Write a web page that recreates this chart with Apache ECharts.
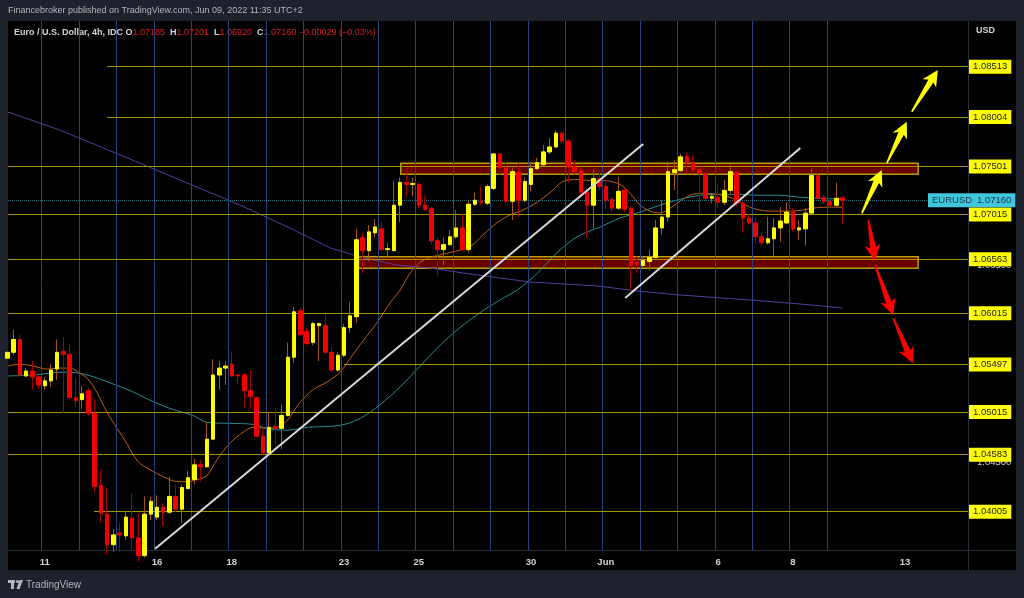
<!DOCTYPE html>
<html><head><meta charset="utf-8">
<script src="https://cdn.jsdelivr.net/npm/echarts@6/dist/echarts.min.js"></script>
<style>html,body{margin:0;padding:0;background:#1e222d;}#c{width:1024px;height:598px;}</style>
</head><body><div id="c"></div>
<script>
// ---- 4h EURUSD candles (index 0 = May 10, 04:00 bar) ----
const opens  = [1.0556,1.0562,1.0575,1.0538,1.0543,1.0537,1.0528,1.0533,1.0545,1.0563,1.0560,1.0516,1.0514,1.0523,1.0500,1.0427,1.0398,1.0367,1.0379,1.0376,1.0394,1.0374,1.0356,1.0398,1.0395,1.0405,1.0400,1.0416,1.0403,1.0424,1.0433,1.0448,1.0446,1.0474,1.0539,1.0546,1.0550,1.0539,1.0539,1.0523,1.0516,1.0477,1.0460,1.0487,1.0485,1.0498,1.0557,1.0604,1.0583,1.0572,1.0589,1.0589,1.0562,1.0544,1.0559,1.0587,1.0598,1.0678,1.0665,1.0683,1.0687,1.0666,1.0665,1.0711,1.0734,1.0732,1.0732,1.0711,1.0708,1.0675,1.0666,1.0671,1.0679,1.0688,1.0666,1.0712,1.0715,1.0713,1.0728,1.0763,1.0749,1.0715,1.0744,1.0716,1.0732,1.0748,1.0752,1.0765,1.0770,1.0784,1.0776,1.0750,1.0746,1.0724,1.0711,1.0738,1.0730,1.0717,1.0708,1.0726,1.0708,1.0653,1.0650,1.0654,1.0658,1.0688,1.0699,1.0744,1.0746,1.0760,1.0754,1.0747,1.0743,1.0718,1.0719,1.0714,1.0726,1.0744,1.0713,1.0698,1.0693,1.0679,1.0673,1.0677,1.0688,1.0693,1.0704,1.0686,1.0687,1.0703,1.0741,1.0719,1.0715,1.0711,1.07185];
const highs  = [1.0566,1.0585,1.0580,1.0546,1.0553,1.0539,1.0537,1.0550,1.0575,1.0577,1.0570,1.0535,1.0528,1.0526,1.0515,1.0443,1.0424,1.0383,1.0389,1.0401,1.0419,1.0399,1.0416,1.0416,1.0417,1.0409,1.0436,1.0428,1.0428,1.0442,1.0454,1.0453,1.0491,1.0555,1.0553,1.0553,1.0563,1.0541,1.0541,1.0543,1.0517,1.0485,1.0501,1.0506,1.0509,1.0572,1.0608,1.0607,1.0587,1.0593,1.0592,1.0600,1.0567,1.0562,1.0591,1.0613,1.0687,1.0683,1.0691,1.0697,1.0694,1.0673,1.0736,1.0739,1.0749,1.0739,1.0734,1.0720,1.0709,1.0678,1.0678,1.0686,1.0706,1.0702,1.0716,1.0724,1.0730,1.0732,1.0764,1.0764,1.0754,1.0749,1.0754,1.0739,1.0754,1.0759,1.0772,1.0779,1.0787,1.0786,1.0778,1.0757,1.0749,1.0728,1.0747,1.0747,1.0734,1.0720,1.0740,1.0728,1.0710,1.0659,1.0660,1.0666,1.0696,1.0716,1.0755,1.0757,1.0763,1.0764,1.0762,1.0750,1.0749,1.0723,1.0732,1.0737,1.0752,1.0747,1.0715,1.0702,1.0699,1.0683,1.0699,1.0698,1.0709,1.0714,1.0708,1.0696,1.0708,1.0748,1.0743,1.0721,1.0718,1.0734,1.07201];
const lows   = [1.0552,1.0559,1.0537,1.0537,1.0524,1.0525,1.0524,1.0527,1.0534,1.0500,1.0514,1.0507,1.0505,1.0498,1.0420,1.0389,1.0357,1.0360,1.0360,1.0372,1.0362,1.0350,1.0354,1.0392,1.0392,1.0386,1.0398,1.0400,1.0389,1.0423,1.0428,1.0431,1.0445,1.0473,1.0524,1.0529,1.0537,1.0529,1.0506,1.0504,1.0476,1.0458,1.0459,1.0466,1.0464,1.0497,1.0551,1.0578,1.0569,1.0569,1.0553,1.0560,1.0542,1.0542,1.0557,1.0582,1.0592,1.0642,1.0654,1.0678,1.0664,1.0659,1.0664,1.0694,1.0720,1.0720,1.0708,1.0705,1.0671,1.0640,1.0650,1.0670,1.0677,1.0664,1.0663,1.0710,1.0711,1.0711,1.0726,1.0742,1.0713,1.0696,1.0699,1.0714,1.0725,1.0747,1.0751,1.0763,1.0769,1.0774,1.0734,1.0742,1.0721,1.0678,1.0688,1.0726,1.0707,1.0704,1.0706,1.0704,1.0625,1.0642,1.0648,1.0645,1.0657,1.0681,1.0694,1.0726,1.0745,1.0744,1.0742,1.0703,1.0715,1.0713,1.0708,1.0711,1.0723,1.0710,1.0683,1.0691,1.0672,1.0669,1.0671,1.0659,1.0674,1.0692,1.0684,1.0676,1.0670,1.0702,1.0716,1.0712,1.0709,1.0709,1.06920];
const closes = [1.0562,1.0575,1.0539,1.0543,1.0537,1.0529,1.0533,1.0544,1.0562,1.0560,1.0516,1.0513,1.0520,1.0500,1.0426,1.0399,1.0367,1.0377,1.0377,1.0395,1.0374,1.0356,1.0398,1.0411,1.0405,1.0400,1.0416,1.0403,1.0425,1.0435,1.0448,1.0446,1.0474,1.0539,1.0546,1.0548,1.0538,1.0538,1.0523,1.0517,1.0477,1.0460,1.0486,1.0485,1.0498,1.0557,1.0603,1.0580,1.0571,1.0591,1.0591,1.0562,1.0544,1.0559,1.0587,1.0599,1.0676,1.0665,1.0684,1.0689,1.0666,1.0667,1.0711,1.0734,1.0732,1.0733,1.0711,1.0707,1.0675,1.0666,1.0671,1.0679,1.0688,1.0666,1.0712,1.0716,1.0714,1.0730,1.0763,1.0749,1.0715,1.0745,1.0716,1.0735,1.0748,1.0754,1.0765,1.0770,1.0784,1.0776,1.0750,1.0745,1.0724,1.0711,1.0738,1.0730,1.0716,1.0708,1.0725,1.0707,1.0650,1.0651,1.0655,1.0658,1.0688,1.0699,1.0745,1.0747,1.0760,1.0754,1.0747,1.0743,1.0718,1.0720,1.0714,1.0726,1.0745,1.0713,1.0698,1.0693,1.0679,1.0673,1.0677,1.0688,1.0695,1.0704,1.0687,1.0688,1.0703,1.0741,1.0718,1.0715,1.0711,1.0718,1.07160];

// ---- moving averages [bar index, price] ----
const maFast = [[0.1,1.0548],[2,1.0550],[4.1,1.0548],[6.4,1.0545],[8.4,1.0546],[10,1.0546],[11.6,1.0541],[12.9,1.0535],[14.4,1.0521],[16,1.0501],[17.6,1.0485],[19.2,1.0469],[21,1.0451],[22.9,1.0443],[25,1.0436],[27.2,1.0431],[28.8,1.0431],[30.4,1.0433],[32,1.0437],[33.6,1.0453],[35.7,1.0470],[37.8,1.0481],[39.4,1.0486],[41.6,1.0485],[43.3,1.0486],[44.9,1.0493],[46.9,1.0511],[49,1.0524],[51.3,1.0532],[53.4,1.0542],[55,1.0556],[57.1,1.0574],[59.3,1.0592],[61.4,1.0612],[63,1.0625],[64.6,1.0642],[66.2,1.0653],[67.8,1.0658],[71,1.0663],[74.2,1.0669],[76.3,1.0681],[78.5,1.0693],[80.6,1.0701],[82.7,1.0706],[85,1.0714],[87.1,1.0724],[89.1,1.0735],[91.4,1.0737],[93.5,1.0736],[95.6,1.0736],[98.3,1.0732],[99.9,1.0723],[101.5,1.0711],[103.1,1.0705],[104.7,1.0703],[106.3,1.0708],[107.9,1.0715],[109.5,1.0721],[111.1,1.0723],[113.8,1.0722],[115.9,1.0719],[117.5,1.0714],[119.1,1.0709],[120.7,1.0706],[122.8,1.0705],[125.6,1.0705],[127.6,1.0706],[129.2,1.0708],[131.5,1.0709],[134,1.0709]];
const maMid = [[0.1,1.0538],[4.1,1.0539],[9.6,1.0542],[12.8,1.0539],[16.5,1.0531],[20.1,1.0522],[23.4,1.0512],[26.6,1.0504],[29.8,1.0498],[32,1.0491],[35.7,1.0490],[39.4,1.0489],[41.6,1.0485],[44.9,1.0483],[48.1,1.0486],[53.4,1.0488],[56.6,1.0495],[59.8,1.0509],[63,1.0527],[66.2,1.0548],[69.4,1.0569],[72.6,1.0587],[75.8,1.0602],[79,1.0615],[81.8,1.0625],[85,1.0642],[88.2,1.0663],[91.4,1.0679],[95.1,1.0689],[98.3,1.0698],[101.5,1.0704],[104.7,1.0711],[107.9,1.0717],[111.1,1.0721],[114.3,1.0722],[117.5,1.0722],[120.7,1.0721],[123.9,1.0721],[127.2,1.0719],[130.4,1.0718],[134,1.0717]];
const maSlow = [[0.1,1.08054],[8.4,1.07872],[18.1,1.07619],[27.7,1.07365],[37.3,1.07112],[45.3,1.06879],[51.8,1.06677],[56.6,1.06585],[62.5,1.06504],[67.8,1.06474],[73.1,1.06423],[83.8,1.06332],[94.6,1.06292],[101,1.06241],[107.9,1.06200],[119.1,1.06150],[127.2,1.06109],[134,1.06069]];

// ---- drawings ----
const levels      = [1.08513,1.08004,1.07501,1.07015,1.06563,1.06015,1.05497,1.05015,1.04583,1.04005];
const levelStarts = [16,16,0.1,0.1,0.1,0.1,54,0.1,0.1,13.9];
const zones = [[63.1,146.1,1.07535,1.07424],[56.3,146.1,1.06589,1.06471]];
const trendLines = [[[23.7,1.0363],[102.0,1.0773]],[[99.1,1.0617],[127.2,1.0769]]];
const upArrows = [[[137.06,1.07028],[140.27,1.07467]],[[141.07,1.07535],[144.28,1.07956]],[[145.08,1.08057],[149.25,1.08480]]];
const downArrows = [[[138.12,1.06960],[139.19,1.06548]],[[139.19,1.06504],[142.13,1.05998]],[[142.13,1.05964],[145.24,1.05509]]];
const lastPrice = 1.07160;

// ---- axes ----
const dayStarts = [6,12,18,24,30,36,42,48,54,60,66,72,78,84,90,96,102,108,114,120,126,132];
const dayLabels = ['11','16','18','23','25','30','Jun','6','8','13'];
const dayLabelBars = [6,24,36,54,66,84,96,114,126,144];
const priceTicks = [1.040,1.045,1.050,1.055,1.060,1.065,1.070,1.075,1.080,1.085];
const X_MIN = 0.1, X_MAX = 154.1, Y_MIN = 1.03617, Y_MAX = 1.08976;

const candleFull = opens.map((o,i)=>[i,o,closes[i],lows[i],highs[i]]);
const candleBody = opens.map((o,i)=>[i,o,closes[i],Math.min(o,closes[i]),Math.max(o,closes[i])]);

const FONT = '"Liberation Sans", Arial, sans-serif';
const levelColor = '#a39800';

const levelData = levels.map((v,k)=>{
  const lab = {show:true, position:'end', distance:1, formatter:v.toFixed(5), backgroundColor:'#ffff00', color:'#222222', fontSize:9.5, fontFamily:FONT, padding:[2,4], lineHeight:10};
  return [{coord:[levelStarts[k], v], label:lab}, {coord:[X_MAX, v], label:lab}];
});

const staticGraphics = [
  {type:'rect', z:-10, shape:{x:8,y:21,width:1008,height:549}, style:{fill:'#000000'}},
  {type:'line', z:-9, shape:{x1:968.5,y1:21,x2:968.5,y2:570}, style:{stroke:'#2a2e39',lineWidth:1}},
  {type:'line', z:-9, shape:{x1:8,y1:550.5,x2:1016,y2:550.5}, style:{stroke:'#2a2e39',lineWidth:1}},
  {type:'text', x:8, y:11, style:{text:'Financebroker published on TradingView.com, Jun 09, 2022 11:35 UTC+2', fill:'#b2b5be', font:'9px '+FONT, verticalAlign:'middle'}},
  {type:'text', x:14, y:33, style:{
    text:'{t|Euro / U.S. Dollar, 4h, IDC} {k|O}{v|1.07185}  {k|H}{v|1.07201}  {k|L}{v|1.06920}  {k|C}{v|1.07160} {v|\u22120.00029 (\u22120.03%)}',
    verticalAlign:'middle', font:'9px '+FONT,
    rich:{t:{fill:'#d1d4dc',font:'bold 9px '+FONT}, k:{fill:'#d1d4dc',font:'bold 9px '+FONT}, v:{fill:'#e01e1e',font:'9px '+FONT}}}},
  {type:'text', x:976, y:31, style:{text:'USD', fill:'#d1d4dc', font:'bold 9px '+FONT, verticalAlign:'middle'}},
  {type:'rect', shape:{x:8,y:580,width:7,height:3}, style:{fill:'#b2b5be'}},
  {type:'rect', shape:{x:11,y:580,width:3,height:9}, style:{fill:'#b2b5be'}},
  {type:'circle', shape:{cx:17.5,cy:581.5,r:1.6}, style:{fill:'#b2b5be'}},
  {type:'polygon', shape:{points:[[19.5,580],[23,580],[19.5,589],[16.5,589]]}, style:{fill:'#b2b5be'}},
  {type:'text', x:26, y:585, style:{text:'TradingView', fill:'#b2b5be', font:'10px '+FONT, verticalAlign:'middle'}}
];

const chart = echarts.init(document.getElementById('c'), null, {renderer:'canvas', width:1024, height:598});
const option = {
  animation:false,
  backgroundColor:'#1e222d',
  grid:{left:8, right:56, top:21, bottom:48, containLabel:false},
  xAxis:{type:'value', min:X_MIN, max:X_MAX,
    axisLine:{show:true, onZero:false, lineStyle:{color:'#2a2e39'}},
    axisTick:{show:false}, splitLine:{show:false},
    axisLabel:{customValues:dayLabelBars, formatter:(v)=>{const k=dayLabelBars.indexOf(v);return k>=0?dayLabels[k]:'';}, color:'#d1d4dc', fontSize:9.5, fontWeight:'bold', fontFamily:FONT, margin:7}},
  yAxis:{type:'value', position:'right', min:Y_MIN, max:Y_MAX, scale:true,
    axisLine:{show:true, lineStyle:{color:'#2a2e39'}},
    axisTick:{show:false}, splitLine:{show:false},
    axisLabel:{customValues:priceTicks, formatter:(v)=>v.toFixed(5), color:'#d1d4dc', fontSize:9.5, fontFamily:FONT, margin:9}},
  graphic: staticGraphics,
  series:[
    {type:'line', name:'days', data:[], z:1, silent:true,
      markLine:{silent:true, precision:5, symbol:['none','none'], label:{show:false}, lineStyle:{color:'#27457f', width:1, type:'solid'},
        data: dayStarts.map(s=>({xAxis:s-0.5}))}},
    {type:'line', name:'zones', data:[], z:2, silent:true,
      markArea:{silent:true, itemStyle:{color:'rgba(125,0,0,0.85)', borderColor:'#b3a300', borderWidth:1.5},
        data: zones.map(z=>[{coord:[z[0],z[2]]},{coord:[z[1],z[3]]}])}},
    {type:'line', name:'levels', data:[], z:3, silent:true,
      markLine:{silent:true, precision:5, symbol:['none','none'], lineStyle:{color:levelColor, width:1, type:'solid'},
        data: levelData}},
    {type:'line', name:'price', data:[], z:3, silent:true,
      markLine:{silent:true, precision:5, symbol:['none','none'], lineStyle:{color:'#1f6f7c', width:1, type:'dotted'},
        label:{show:true, position:'end', distance:-40, formatter:'{a|EURUSD}{b|'+lastPrice.toFixed(5)+'}', backgroundColor:'#41c6dc', padding:[2,4], lineHeight:10,
          rich:{a:{width:45, color:'#123a44', fontSize:9.5, fontFamily:FONT}, b:{color:'#123a44', fontSize:9.5, fontFamily:FONT}}},
        data:[{yAxis:lastPrice}]}},
    {type:'line', name:'MA slow', data:maSlow, z:4, symbol:'none', lineStyle:{color:'#5a3da0', width:1}, silent:true},
    {type:'line', name:'MA mid', data:maMid, z:4, symbol:'none', smooth:0.3, lineStyle:{color:'#2a8c95', width:1}, silent:true},
    {type:'line', name:'MA fast', data:maFast, z:4, symbol:'none', smooth:0.3, lineStyle:{color:'#c0600c', width:1}, silent:true},
    {type:'candlestick', name:'wicks', data:candleFull, z:5, barWidth:1,
      dimensions:['x','open','close','lowest','highest'], encode:{x:'x', y:['open','close','lowest','highest']},
      itemStyle:{color:'#a3560f', color0:'#a30000', borderColor:'#a3560f', borderColor0:'#a30000', borderWidth:1}},
    {type:'candlestick', name:'bodies', data:candleBody, z:6, barWidth:4,
      dimensions:['x','open','close','lowest','highest'], encode:{x:'x', y:['open','close','lowest','highest']},
      itemStyle:{color:'#ffff00', color0:'#f20000', borderColor:'#ffff00', borderColor0:'#f20000', borderWidth:1}},
  ].concat(trendLines.map((tl,k)=>({type:'line', name:'trend'+k, data:tl, z:7, symbol:'none', silent:true, lineStyle:{color:'#d9d9d9', width:2}})))
};
chart.setOption(option);

function arrowPts(t, h, head, wing, neck, tail) {
  const dx=h[0]-t[0], dy=h[1]-t[1], L=Math.hypot(dx,dy);
  const ux=dx/L, uy=dy/L, nx=-uy, ny=ux;
  const bx=h[0]-ux*head, by=h[1]-uy*head;
  const wx=h[0]-ux*(head+3), wy=h[1]-uy*(head+3);
  return [[t[0]+nx*tail,t[1]+ny*tail],[bx+nx*neck,by+ny*neck],[wx+nx*wing,wy+ny*wing],[h[0],h[1]],
          [wx-nx*wing,wy-ny*wing],[bx-nx*neck,by-ny*neck],[t[0]-nx*tail,t[1]-ny*tail]];
}
const arrowGraphics = [];
upArrows.forEach(a=>{
  const t=chart.convertToPixel({xAxisIndex:0,yAxisIndex:0}, a[0]);
  const h=chart.convertToPixel({xAxisIndex:0,yAxisIndex:0}, a[1]);
  arrowGraphics.push({type:'polygon', z:20, shape:{points:arrowPts(t,h,13,8,3,0.8)}, style:{fill:'#ffff00'}});
});
downArrows.forEach(a=>{
  const t=chart.convertToPixel({xAxisIndex:0,yAxisIndex:0}, a[0]);
  const h=chart.convertToPixel({xAxisIndex:0,yAxisIndex:0}, a[1]);
  arrowGraphics.push({type:'polygon', z:20, shape:{points:arrowPts(t,h,13,8,3,0.8)}, style:{fill:'#ff0000'}});
});
chart.setOption({graphic: staticGraphics.concat(arrowGraphics)});
</script>
</body></html>
